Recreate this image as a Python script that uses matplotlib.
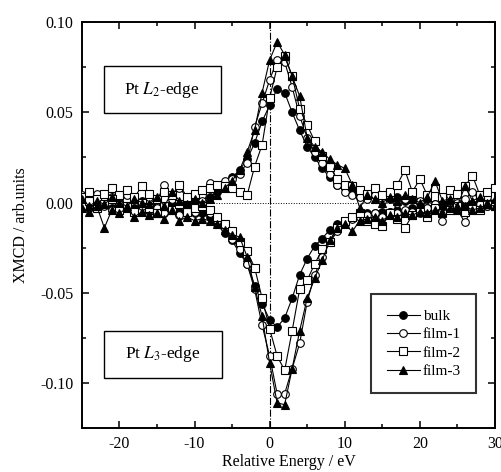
import numpy as np
import matplotlib
matplotlib.use("Agg")
import matplotlib.pyplot as plt
from matplotlib.patches import Rectangle
from matplotlib.ticker import MultipleLocator, FormatStrFormatter

plt.rcParams['font.family'] = ['Liberation Serif', 'DejaVu Serif']
plt.rcParams['mathtext.fontset'] = 'stix'
plt.rcParams['axes.unicode_minus'] = False

energy = [-25, -24, -23, -22, -21, -20, -19, -18, -17, -16, -15, -14, -13, -12,
          -11, -10, -9, -8, -7, -6, -5, -4, -3, -2, -1, 0, 1, 2, 3, 4, 5, 6,
          7, 8, 9, 10, 11, 12, 13, 14, 15, 16, 17, 18, 19, 20, 21, 22, 23, 24,
          25, 26, 27, 28, 29, 30]

bulk_l2 = [-0.002, 0.001, -0.003, -0.001, -0.004, 0.000, -0.002, -0.003, 0.001, -0.002,
           -0.001, -0.003, 0.000, -0.002, 0.000, 0.002, 0.001,
           0.003, 0.006, 0.009, 0.014, 0.018, 0.024, 0.033, 0.045, 0.054, 0.063,
           0.061, 0.050, 0.040, 0.031, 0.025, 0.019, 0.014, 0.010, 0.008, 0.006,
           0.005, 0.004, 0.004, 0.003, 0.002, 0.003, 0.001, 0.002, 0.000, 0.002,
           -0.001, 0.001, 0.000, -0.002, 0.001, -0.001, 0.000, -0.002, -0.001]
bulk_l3 = [-0.001, 0.002, -0.002, 0.000, -0.003, 0.001, -0.002, -0.004, -0.001, -0.003,
           -0.002, -0.004, -0.003, -0.005, -0.004, -0.006, -0.006,
           -0.008, -0.012, -0.017, -0.021, -0.028, -0.034, -0.046, -0.056, -0.065, -0.069,
           -0.064, -0.053, -0.040, -0.031, -0.024, -0.020, -0.015, -0.012, -0.010, -0.008,
           -0.007, -0.006, -0.006, -0.005, -0.005, -0.004, -0.005, -0.003, -0.004, -0.003,
           -0.002, -0.003, -0.002, -0.001, -0.002, -0.001, 0.000, -0.001, 0.000]

film1_l2 = [0.004, 0.002, 0.005, 0.001, 0.003, 0.000, 0.004, 0.002, -0.001, 0.003,
            0.001, 0.010, 0.002, 0.008, 0.003, 0.001, 0.004,
            0.011, 0.010, 0.012, 0.013, 0.016, 0.022, 0.042, 0.055, 0.068, 0.079,
            0.078, 0.064, 0.048, 0.036, 0.028, 0.022, 0.016, 0.010, 0.006, 0.004,
            0.003, 0.002, 0.004, 0.001, 0.003, 0.000, 0.002, 0.005, 0.001, 0.003,
            -0.001, 0.002, 0.004, 0.000, 0.002, 0.006, 0.001, 0.003, 0.000]
film1_l3 = [0.000, -0.003, 0.001, -0.002, -0.004, -0.001, -0.003, -0.005, -0.002, -0.004,
            -0.003, -0.006, -0.004, -0.007, -0.003, -0.005, 0.001,
            -0.006, -0.010, -0.014, -0.020, -0.026, -0.034, -0.048, -0.068, -0.085, -0.106,
            -0.106, -0.092, -0.078, -0.055, -0.040, -0.030, -0.022, -0.016, -0.012, -0.009,
            -0.008, -0.007, -0.006, -0.008, -0.005, -0.006, -0.004, -0.005, -0.006, -0.003,
            -0.004, -0.010, -0.003, -0.004, -0.011, -0.003, -0.001, -0.002, -0.001]

film2_l2 = [0.003, 0.006, 0.002, 0.005, 0.008, 0.004, 0.007, 0.003, 0.009, 0.005,
            0.002, 0.006, 0.004, 0.010, 0.003, 0.005, 0.007,
            0.008, 0.010, 0.009, 0.008, 0.006, 0.004, 0.020, 0.032, 0.058, 0.075,
            0.081, 0.070, 0.052, 0.043, 0.034, 0.026, 0.020, 0.013, 0.010, 0.009,
            0.007, 0.005, 0.008, 0.004, 0.006, 0.010, 0.018, 0.006, 0.013, 0.004,
            0.008, 0.003, 0.007, 0.005, 0.009, 0.015, 0.004, 0.006, 0.008]
film2_l3 = [-0.002, 0.001, -0.003, -0.001, 0.002, -0.004, -0.002, -0.005, 0.000, -0.003,
            -0.006, -0.002, -0.004, -0.001, -0.005, -0.003, -0.002,
            -0.004, -0.008, -0.012, -0.016, -0.022, -0.027, -0.036, -0.053, -0.070, -0.085,
            -0.093, -0.071, -0.048, -0.043, -0.034, -0.026, -0.022, -0.014, -0.010, -0.008,
            -0.006, -0.010, -0.012, -0.013, -0.006, -0.009, -0.014, -0.007, -0.005, -0.008,
            -0.003, -0.006, -0.004, -0.002, -0.005, -0.003, -0.004, -0.001, -0.002]

film3_l2 = [0.002, -0.002, 0.001, -0.001, 0.003, 0.000, -0.002, 0.002, 0.000, -0.001,
            0.003, -0.002, 0.006, 0.001, -0.001, 0.002, 0.000,
            0.002, 0.004, 0.008, 0.012, 0.018, 0.028, 0.040, 0.061, 0.079, 0.089,
            0.082, 0.070, 0.059, 0.036, 0.031, 0.028, 0.024, 0.021, 0.019, 0.010,
            -0.003, 0.004, 0.002, 0.000, 0.003, 0.001, 0.004, 0.002, 0.000, 0.003,
            0.012, 0.001, 0.002, -0.002, 0.009, 0.001, 0.003, 0.000, 0.002]
film3_l3 = [-0.003, -0.005, -0.002, -0.014, -0.004, -0.006, -0.003, -0.008, -0.005, -0.007,
            -0.006, -0.009, -0.004, -0.010, -0.008, -0.010, -0.009,
            -0.010, -0.012, -0.015, -0.018, -0.019, -0.030, -0.047, -0.063, -0.089, -0.111,
            -0.112, -0.092, -0.071, -0.053, -0.042, -0.032, -0.021, -0.014, -0.012, -0.016,
            -0.010, -0.009, -0.008, -0.010, -0.007, -0.008, -0.006, -0.007, -0.005, -0.006,
            -0.004, -0.005, -0.003, -0.004, -0.002, -0.004, -0.003, -0.001, -0.002]

labels = ['bulk', 'film-1', 'film-2', 'film-3']
markers = ['o', 'o', 's', '^']
fills = ['black', 'white', 'white', 'black']
l2_series = [bulk_l2, film1_l2, film2_l2, film3_l2]
l3_series = [bulk_l3, film1_l3, film2_l3, film3_l3]

fig = plt.figure(figsize=(5.02, 4.72), dpi=100)
ax = fig.add_axes([0.163, 0.093, 0.823, 0.860])

ax.axvline(0, color='black', lw=0.8, ls='-.', zorder=1)
ax.axhline(0, color='black', lw=0.7, ls=':', zorder=1)

handles = []
for lab, mk, fc, y2, y3 in zip(labels, markers, fills, l2_series, l3_series):
    style = dict(color='black', lw=0.8, marker=mk, ms=5.5, mfc=fc, mec='black',
                 mew=0.8, zorder=3)
    h, = ax.plot(energy, y2, label=lab, **style)
    ax.plot(energy, y3, **style)
    handles.append(h)

ax.set_xlim(-25, 30)
ax.set_ylim(-0.125, 0.10)
ax.xaxis.set_major_locator(MultipleLocator(10))
ax.xaxis.set_minor_locator(MultipleLocator(5))
ax.yaxis.set_major_locator(MultipleLocator(0.05))
ax.yaxis.set_minor_locator(MultipleLocator(0.025))
ax.yaxis.set_major_formatter(FormatStrFormatter('%.2f'))
ax.tick_params(which='both', direction='in', top=True, right=True,
               labelsize=11.5, width=1.1)
ax.tick_params(which='major', length=5, pad=6)
ax.tick_params(which='minor', length=3)
for sp in ax.spines.values():
    sp.set_linewidth(1.4)

ax.set_xlabel('Relative Energy / eV', fontsize=11.5, labelpad=1)
ax.set_ylabel('XMCD / arb.units', fontsize=11.5, labelpad=8)

# framed edge labels
edge_boxes = [((-22.1, 0.0494), 15.6, 0.0262, r'Pt $\mathit{L}_2$-edge'),
              ((-22.1, -0.0972), 15.7, 0.0261, r'Pt $\mathit{L}_3$-edge')]
for (x0, y0), w, h, txt in edge_boxes:
    ax.add_patch(Rectangle((x0, y0), w, h, fc='white', ec='black', lw=1.0, zorder=4))
    ax.text(x0 + w / 2, y0 + h / 2, txt, fontsize=12.5, ha='center',
            va='center', zorder=5)

leg = ax.legend(handles=handles, loc='lower right', bbox_to_anchor=(0.954, 0.086),
                fontsize=11, frameon=True, fancybox=False, edgecolor='black',
                handlelength=2.2, handletextpad=0.15, labelspacing=0.3,
                borderpad=1.0, borderaxespad=0, markerscale=1.0)
leg.get_frame().set_linewidth(1.5)

fig.savefig('out.png', dpi=100)
